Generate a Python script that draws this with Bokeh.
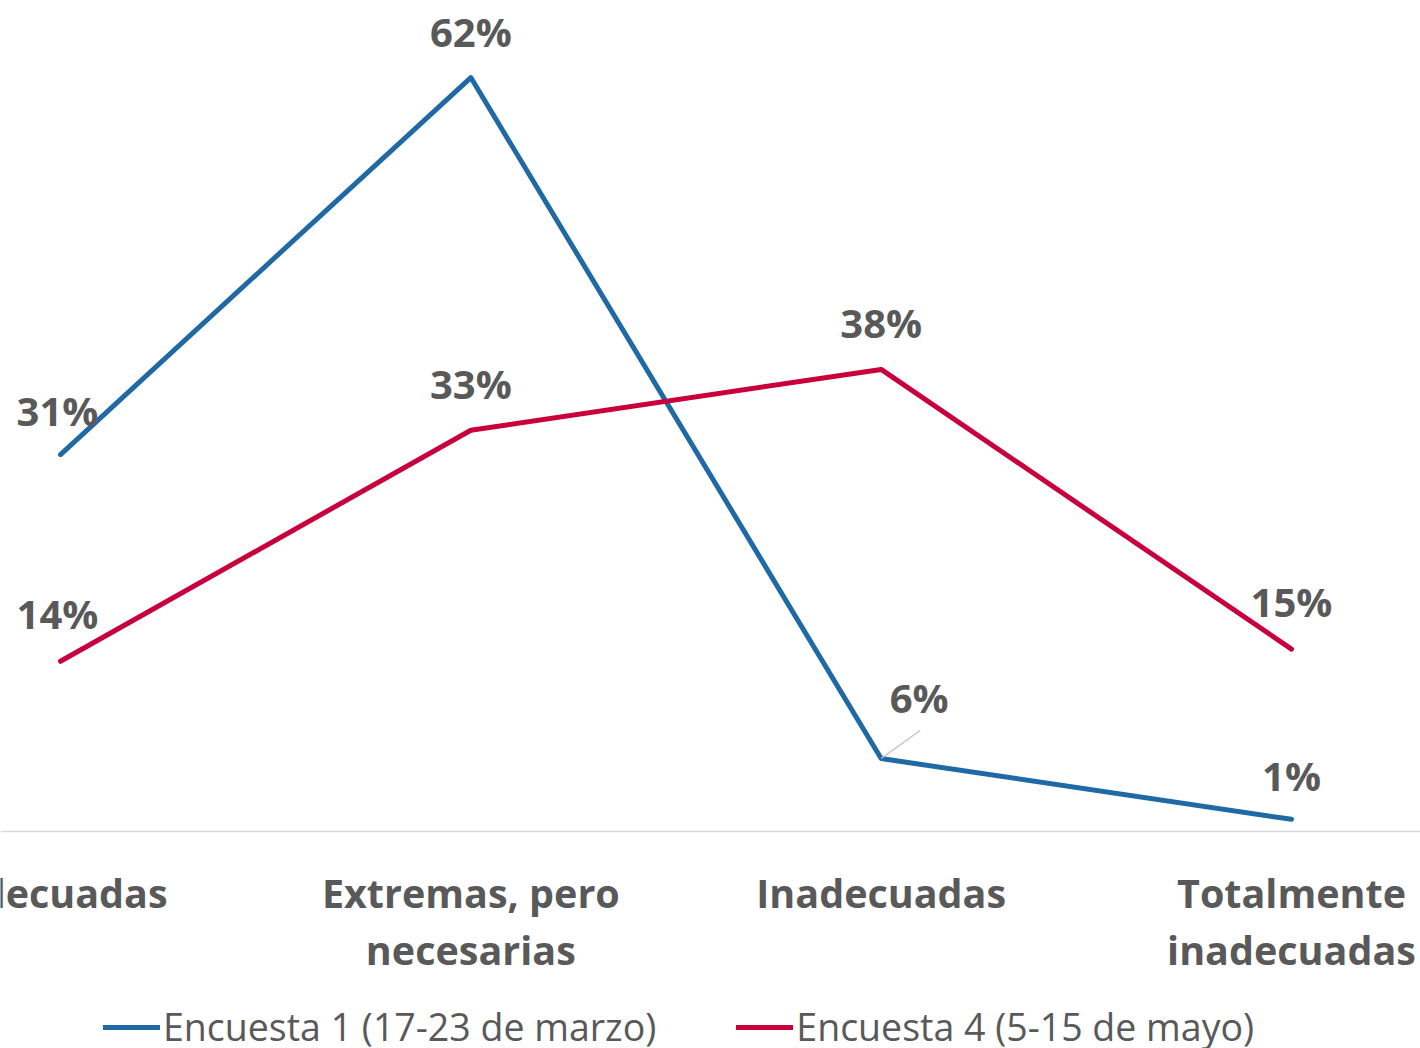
from bokeh.plotting import figure
from bokeh.models import (ColumnDataSource, Range1d, Legend, LegendItem, Span)
from bokeh.core.properties import value
from bokeh.embed import file_html
from bokeh.resources import INLINE

categories = ["Adecuadas", "Extremas, pero\nnecesarias", "Inadecuadas", "Totalmente\ninadecuadas"]
series1_name = "Encuesta 1 (17-23 de marzo)"
series2_name = "Encuesta 4 (5-15 de mayo)"
series1 = [31, 62, 6, 1]
series2 = [14, 33, 38, 15]

BLUE = "#1f69a5"
RED = "#c8003c"
GREY = "#595959"

W, H = 1420, 1048
x0_px = 60          # pixel position of the first category
px_per_cat = 410.33
zero_px = 831       # pixel row of the 0% baseline
px_per_pct = 12.16
x_start = -x0_px / px_per_cat
x_end = x_start + W / px_per_cat
y_end = zero_px / px_per_pct
y_start = -(H - zero_px) / px_per_pct

p = figure(width=W, height=H, output_backend="svg", toolbar_location=None,
           x_range=Range1d(x_start, x_end), y_range=Range1d(y_start, y_end),
           x_axis_location=None, y_axis_location=None,
           min_border=0, min_border_left=0, min_border_right=0,
           min_border_top=0, min_border_bottom=0)
p.outline_line_color = None
p.grid.visible = False
p.background_fill_color = "white"
p.border_fill_color = "white"

xs = list(range(len(categories)))

# category axis: baseline + category labels
p.add_layout(Span(location=0, dimension="width", line_color="#d9d9d9", line_width=1.5))
lines1 = [c.split("\n")[0] for c in categories]
lines2 = [c.split("\n")[1] if "\n" in c else "" for c in categories]
cat_src = ColumnDataSource(dict(x=xs, y=[0] * len(xs), l1=lines1, l2=lines2))
for col, off in (("l1", 61), ("l2", 118)):
    p.text("x", "y", text=col, source=cat_src, y_offset=off,
           text_align="center", text_baseline="alphabetic",
           text_font=value("Open Sans"), text_font_style="bold",
           text_font_size="39.5px", text_color=GREY)

src1 = ColumnDataSource(dict(x=xs, y=series1, lab=[f"{v}%" for v in series1],
                             xo=[-3, 0, 38, 0], yo=[-44, -46, -61, -44]))
src2 = ColumnDataSource(dict(x=xs, y=series2, lab=[f"{v}%" for v in series2],
                             xo=[-3, 0, 0, 0], yo=[-48, -47, -47, -48]))

r1 = p.line("x", "y", source=src1, line_color=BLUE, line_width=5, line_cap="round", line_join="round")
r2 = p.line("x", "y", source=src2, line_color=RED, line_width=5, line_cap="round", line_join="round")

# leader line for the displaced 6% label
i6 = 2
p.segment(x0=[xs[i6]], y0=[series1[i6]],
          x1=[xs[i6] + 39 / px_per_cat], y1=[series1[i6] + 28 / px_per_pct],
          line_color="#bfbfbf", line_width=1.2)

for src in (src1, src2):
    p.text("x", "y", text="lab", source=src, x_offset="xo", y_offset="yo",
           text_align="center", text_baseline="middle",
           text_font=value("Open Sans"), text_font_style="bold",
           text_font_size="40px", text_color=GREY)

legend = Legend(items=[LegendItem(label=series1_name, renderers=[r1]),
                       LegendItem(label=series2_name, renderers=[r2])],
                orientation="horizontal", location=(103, -4),
                label_text_font="Open Sans", label_text_font_size="37.5px",
                label_text_color=GREY, glyph_width=57, glyph_height=20,
                label_standoff=3, spacing=80, border_line_color=None,
                background_fill_alpha=0, padding=0, margin=0)
p.add_layout(legend, "center")

open("out.html", "w").write(file_html(p, INLINE))
